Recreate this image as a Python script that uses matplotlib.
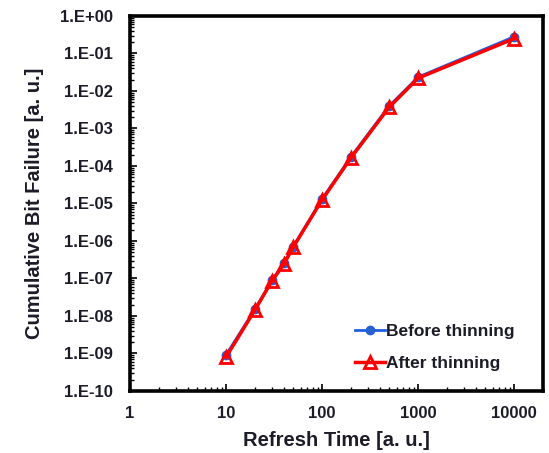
import matplotlib
matplotlib.use("Agg")
import matplotlib.pyplot as plt
from matplotlib.ticker import FuncFormatter, LogLocator, NullFormatter
import numpy as np

refresh_time = [10, 20, 30, 40, 50, 100, 200, 500, 1000, 10000]
before_thinning = [9.2e-10, 1.52e-8, 8.9e-8, 2.55e-7, 7.1e-7, 1.32e-5, 1.76e-4, 4.0e-3, 2.35e-2, 0.28]
after_thinning = [8.0e-10, 1.45e-8, 8.5e-8, 2.4e-7, 6.8e-7, 1.25e-5, 1.65e-4, 3.7e-3, 2.2e-2, 0.25]

plt.rcParams['font.family'] = ['Liberation Sans', 'DejaVu Sans']
txt = '#1c1c28'

fig = plt.figure(figsize=(5.49, 4.53), dpi=100)
ax = fig.add_axes([0.2368, 0.1369, 0.7522, 0.8278])

ax.plot(refresh_time, before_thinning, color='#1f5fe0', lw=2.0, marker='o', ms=6,
        mfc='#2a62c8', mec='#1f5fe0', label='Before thinning', zorder=3)
ax.plot(refresh_time, after_thinning, color='#ff0000', lw=2.5, marker='^', ms=9,
        mfc='none', mec='#ff0000', mew=2.0, label='After thinning', zorder=4)

ax.set_xscale('log')
ax.set_yscale('log')
ax.set_xlim(1, 10**4.3)
ax.set_ylim(1e-10, 1)

ax.xaxis.set_major_locator(LogLocator(base=10, numticks=10))
ax.xaxis.set_minor_locator(LogLocator(base=10, subs=np.arange(2, 10), numticks=10))
ax.xaxis.set_minor_formatter(NullFormatter())
ax.xaxis.set_major_formatter(FuncFormatter(lambda v, p: f"{v:.0f}"))

ax.yaxis.set_major_locator(LogLocator(base=10, numticks=12))
ax.yaxis.set_minor_locator(LogLocator(base=10, subs=np.arange(2, 10), numticks=12))
ax.yaxis.set_minor_formatter(NullFormatter())

def yfmt(v, p):
    e = int(round(np.log10(v)))
    sign = '+' if e >= 0 else '-'
    return f"1.E{sign}{abs(e):02d}"
ax.yaxis.set_major_formatter(FuncFormatter(yfmt))

for s in ax.spines.values():
    s.set_linewidth(2.6)
    s.set_color('black')

ax.tick_params(which='major', direction='in', length=5, width=1.2, labelsize=12,
               labelcolor=txt)
ax.tick_params(axis='y', which='major', pad=12)
ax.tick_params(axis='x', which='major', pad=11)
ax.tick_params(which='minor', direction='in', length=3, width=1.0)
for lab in ax.get_xticklabels() + ax.get_yticklabels():
    lab.set_fontweight('bold')

ax.set_xlabel('Refresh Time [a. u.]', fontsize=14.5, fontweight='bold', color=txt, labelpad=7)
ax.set_ylabel('Cumulative Bit Failure [a. u.]', fontsize=14.5, fontweight='bold', color=txt, labelpad=12)

leg = ax.legend(loc='lower right', frameon=False, fontsize=12.5, handlelength=1.7,
                handletextpad=0.1, labelspacing=0.95, bbox_to_anchor=(0.97, 0.012))
for t in leg.get_texts():
    t.set_fontweight('bold')
    t.set_color(txt)

fig.savefig('out.png', dpi=100)
